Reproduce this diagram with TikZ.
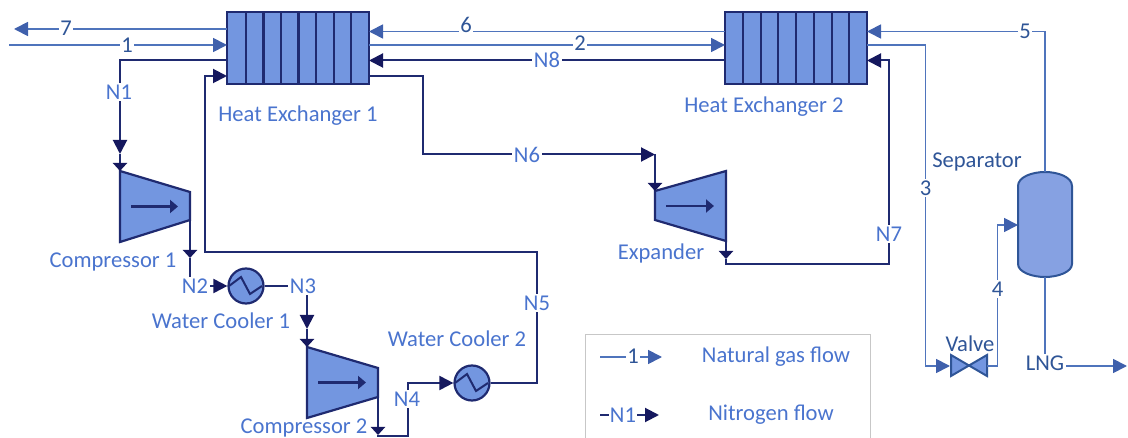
\documentclass[tikz,border=0pt]{standalone}
\usepackage{fontspec}
\setmainfont{Carlito}
\usetikzlibrary{arrows.meta}
\definecolor{fillblue}{HTML}{7396E0}
\definecolor{sepfill}{HTML}{86A1E2}
\definecolor{navy}{HTML}{1F2A70}
\definecolor{navytip}{HTML}{15185E}
\definecolor{gasline}{HTML}{4F74BC}
\definecolor{gastip}{HTML}{3F60AC}
\definecolor{sepline}{HTML}{2F5597}
\definecolor{lblue}{HTML}{4A74CE}
\definecolor{dblue}{HTML}{2F5597}
\tikzset{
  x=1pt,y=-1pt,
  gas/.style={draw=gasline,line width=1.8pt},
  nit/.style={draw=navy,line width=2pt},
  gastipped/.style={gas,-{Triangle[length=14pt,width=14pt,color=gastip]}},
  nittipped/.style={nit,-{Triangle[length=14pt,width=14pt,color=navytip]}},
  nitend/.style={nit,-{Triangle[length=8pt,width=14pt,color=navytip]}},
  equip/.style={draw=navy,line width=2.2pt,fill=fillblue,line join=miter},
  inner/.style={draw=navy,line width=2.2pt,-{Triangle[length=8pt,width=13pt,color=navy]}},
  hxbox/.style={equip,rectangle,minimum width=142pt,minimum height=72pt,inner sep=0pt},
  coolerc/.style={equip,circle,minimum size=35pt,inner sep=0pt},
  txt/.style={font=\fontsize{22.6}{24}\selectfont,text=lblue,inner sep=0pt},
  dtxt/.style={font=\fontsize{22.6}{24}\selectfont,text=dblue,inner sep=0pt},
  lab/.style={txt,fill=white,inner sep=1.5pt},
  dlab/.style={dtxt,fill=white,inner sep=1.5pt},
  low/.style={yshift=-2pt},
}
\begin{document}
\begin{tikzpicture}
\useasboundingbox (0,0) rectangle (1128,438);
\clip (0,0) rectangle (1128,438);

% equipment
\node[hxbox] (hxa) at (298,48) {};
\node[hxbox] (hxb) at (796,48) {};
\foreach \i in {246,263.5,281,298.5,316,334,351}
  \draw[navy,line width=2.2pt] (\i,12) -- (\i,84);
\foreach \i in {743,761,778,796,814,832,849}
  \draw[navy,line width=2.2pt] (\i,12) -- (\i,84);

% compressor 1
\coordinate (cao) at (120,171);
\coordinate (cae) at (190,220);
\draw[equip] (cao) -- (190,192) -- (cae) -- (120,242) -- cycle;
\draw[inner] (131,206.5) -- (178,206.5);
% compressor 2
\coordinate (cbo) at (307,347);
\coordinate (cbe) at (378,397);
\draw[equip] (cbo) -- (378,368) -- (cbe) -- (307,418) -- cycle;
\draw[inner] (318,382.5) -- (366,382.5);
% expander
\coordinate (exo) at (655,191);
\coordinate (exe) at (726,241);
\draw[equip] (exo) -- (726,171) -- (exe) -- (655,220) -- cycle;
\draw[inner] (666,206) -- (714,206);

% coolers
\node[coolerc] (wca) at (246,286) {};
\node[coolerc] (wcb) at (472,383) {};
\foreach \c in {wca,wcb}
  \draw[navy,line width=2pt,line join=miter]
    ([xshift=-17pt]\c.center) -- ++(12,-9) -- ++(9,17) -- ++(12,-8);

% separator
\node[inner sep=0pt,minimum size=0pt] (sep) at (1045,225) {};
\draw[fill=sepfill,draw=sepline,line width=2pt]
  (1018,186) .. controls (1018,177) and (1032,172) .. (1045,172)
  .. controls (1058,172) and (1072,177) .. (1072,186)
  -- (1072,264) .. controls (1072,272) and (1058,277) .. (1045,277)
  .. controls (1032,277) and (1018,272) .. (1018,264) -- cycle;
\coordinate (septop) at (1045,172);
\coordinate (sepbot) at (1045,277);
\coordinate (sepin) at (1018,225);

% valve
\node[inner sep=0pt] (valve) at (969,366) {};
\draw[fill=fillblue,draw=sepline,line width=2pt,line join=miter]
  (951,355) -- (987,376) -- (987,355) -- (951,376) -- cycle;

% ports
\coordinate (a7) at (227,29);
\coordinate (a1) at (227,45);
\coordinate (an1) at (227,60.5);
\coordinate (an5) at (227,76);
\coordinate (ar6) at (369,31.5);
\coordinate (ar2) at (369,45);
\coordinate (ar8) at (369,60.5);
\coordinate (ar6b) at (369,76);
\coordinate (bl6) at (725,31.5);
\coordinate (bl2) at (725,45);
\coordinate (bl8) at (725,60.5);
\coordinate (br5) at (867,31.5);
\coordinate (br3) at (867,45);
\coordinate (br7) at (867,60.5);
\coordinate (end7) at (14,29);
\coordinate (start1) at (9,45);

% natural gas lines
\draw[gastipped] (a7) -- (end7);
\draw[gastipped] (start1) -- (a1);
\draw[gastipped] (bl6) -- (ar6);
\draw[gastipped] (ar2) -- (bl2);
\draw[gastipped] (septop) |- (br5);
\draw[gastipped] (br3) -| (925.5,366) -- (950,366);
\draw[gas] (987,366) -- (997.5,366) -- (997.5,225) -- (1004,225);
\draw[gastipped] (997.5,225) -- (sepin);
\coordinate (lngend) at (1127,366);
\draw[gas] (sepbot) -- (1045,366);
\draw[gastipped] (1045,366) -- (lngend);

% nitrogen lines
\draw[nit] (an1) -| (120,140);
\draw[nittipped] (120,140) -- (120,154);
\draw[nitend] (120,154) -- (cao);
\draw[nitend] (cae) -- (190,258);
\draw[nit] (190,258) -- (190,286) -- (214,286);
\draw[nittipped] (205,286) -- (wca.west);
\draw[nit] (wca.east) -- (307,286) -- (307,316);
\draw[nittipped] (307,316) -- (307,329);
\draw[nitend] (307,329) -- (cbo);
\draw[nitend] (cbe) -- (378,435);
\draw[nit] (378,435) -- (378,436) -- (408,436) -- (408,383) -- (440,383);
\draw[nittipped] (430,383) -- (wcb.west);
\draw[nit] (wcb.east) -- (537,383) -- (537,252) -- (205,252) -- (205,76) -- (213,76);
\draw[nittipped] (205,76) -- (an5);
\draw[nittipped] (bl8) -- (ar8);
\draw[nit] (ar6b) -- (423,76) -- (423,154.5) -- (645,154.5);
\draw[nittipped] (640,154.5) -- (655,154.5);
\draw[nit] (655,154.5) -- (655,185);
\draw[nitend] (655,170) -- (exo);
\draw[nitend] (exe) -- (726,259);
\draw[nit] (726,259) -- (726,264) -- (889,264) -- (889,60.5) -- (880,60.5);
\draw[nittipped] (889,60.5) -- (br7);

% line labels
\node[dlab] (l7) at (66,28) {7};
\node[dlab] (l1) at (127,45) {1};
\node[dlab] (l6) at (466,25) {6};
\node[dlab] (l2) at (580,43) {2};
\node[dlab] (l5) at (1025,31) {5};
\node[dlab] (l3) at (925.5,188) {3};
\node[dlab] (l4) at (997.5,289) {4};
\node[dlab] (lng) at (1045,363) {LNG};
\node[lab] (ln1) at (119,92) {N1};
\node[lab] (ln2) at (195,286) {N2};
\node[lab] (ln3) at (303,286) {N3};
\node[lab] (ln4) at (407,399) {N4};
\node[lab] (ln5) at (537,303) {N5};
\node[lab] (ln6) at (527,155) {N6};
\node[lab] (ln7) at (889,234) {N7};
\node[lab] (ln8) at (547,60) {N8};

% equipment labels
\node[txt,low] (thxa) at (298,114) {Heat Exchanger 1};
\node[txt,low] (thxb) at (764,105) {Heat Exchanger 2};
\node[txt,low] (tca) at (113,260) {Compressor 1};
\node[txt] (twa) at (221,321) {Water Cooler 1};
\node[txt] (twb) at (457,339) {Water Cooler 2};
\node[txt] (tcb) at (304,428) {Compressor 2};
\node[txt,low] (tex) at (661,251) {Expander};
\node[dtxt,low] (tsep) at (977,160) {Separator};
\node[dtxt] (tval) at (970,344) {Valve};

% legend
\node[draw=black!22,line width=1pt,minimum width=285pt,minimum height=104pt,inner sep=0pt] (legend) at (727.5,387) {};
\coordinate (lga) at (600,357);
\coordinate (lgb) at (662,357);
\coordinate (lna) at (600,415);
\coordinate (lnb) at (659,415);
\draw[gastipped] (lga) -- (lgb);
\draw[nittipped] (lna) -- (lnb);
\node[dlab,inner sep=1pt] (lg1) at (633,356) {1};
\node[lab,inner sep=1pt] (ln1b) at (623,415) {N1};
\node[txt,low] (tng) at (776,355) {Natural gas flow};
\node[txt,low] (tnf) at (771,413) {Nitrogen flow};
\end{tikzpicture}
\end{document}
